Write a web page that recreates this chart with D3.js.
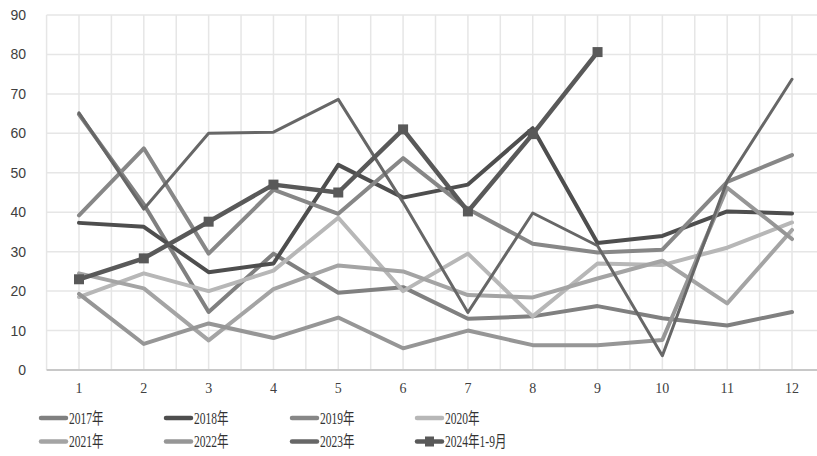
<!DOCTYPE html>
<html>
<head>
<meta charset="utf-8">
<script src="https://cdn.jsdelivr.net/npm/d3@7/dist/d3.min.js"></script>
<style>
html,body{margin:0;padding:0;background:#fff;}
svg{display:block;}
</style>
</head>
<body>
<svg id="chart" width="817" height="456"></svg>
<script>
const months = [1,2,3,4,5,6,7,8,9,10,11,12];
const yTicks = [0,10,20,30,40,50,60,70,80,90];
const seriesNames = ["2017年","2018年","2019年","2020年","2021年","2022年","2023年","2024年1-9月"];
const s2017 = [64.8,42.0,14.7,29.5,19.6,21.0,13.0,13.6,16.2,13.1,11.3,14.7];
const s2018 = [37.3,36.3,24.8,27.0,52.0,43.7,47.0,61.3,32.2,34.0,40.2,39.7];
const s2019 = [39.2,56.2,29.5,45.7,39.6,53.7,40.8,32.0,29.8,30.5,47.7,54.5];
const s2020 = [18.5,24.5,20.0,25.2,38.6,20.0,29.5,13.6,27.0,26.6,31.0,37.4];
const s2021 = [24.5,20.7,7.5,20.5,26.5,25.0,19.0,18.4,23.2,27.7,16.9,35.5];
const s2022 = [19.3,6.6,11.8,8.1,13.3,5.5,10.0,6.3,6.3,7.6,46.2,33.2];
const s2023 = [65.2,40.8,60.0,60.3,68.6,42.5,14.6,39.8,31.5,3.6,48.0,73.7];
const s2024 = [23.0,28.3,37.6,47.0,45.0,61.0,40.2,59.8,80.6];

const allSeries = [s2017,s2018,s2019,s2020,s2021,s2022,s2023,s2024];
const colors = ["#808080","#4e4e4e","#878787","#b7b7b7","#a4a4a4","#969696","#676767","#595959"];
const widths = [4,4,4,4,4,4,3,4.5];

const svg = d3.select("#chart");
const x = d3.scaleLinear().domain([1,12]).range([79,792]);
const y = d3.scaleLinear().domain([0,90]).range([370,15]);

// grid
const vgrid = d3.range(0.5, 13, 0.5);
svg.append("g").selectAll("line").data(vgrid).join("line")
  .attr("x1", d=>x(d)).attr("x2", d=>x(d))
  .attr("y1", y(90)).attr("y2", y(0))
  .attr("stroke","#e6e6e6").attr("stroke-width",1.5);
svg.append("g").selectAll("line").data(yTicks.filter(d=>d>0)).join("line")
  .attr("x1", x(0.5)).attr("x2", 830)
  .attr("y1", d=>y(d)).attr("y2", d=>y(d))
  .attr("stroke","#e6e6e6").attr("stroke-width",1.5);
// x axis line
svg.append("line").attr("x1",x(0.5)).attr("x2",830)
  .attr("y1",y(0)).attr("y2",y(0)).attr("stroke","#c8c8c8").attr("stroke-width",2);

// y labels
svg.append("g").selectAll("text").data(yTicks).join("text")
  .attr("x",26).attr("y",d=>y(d)+5)
  .attr("text-anchor","end")
  .attr("font-family","'Liberation Sans', Arial, sans-serif")
  .attr("font-size",14).attr("fill","#404040")
  .text(d=>d);
// x labels
svg.append("g").selectAll("text").data(months).join("text")
  .attr("x",d=>x(d)).attr("y",393)
  .attr("text-anchor","middle")
  .attr("font-family","'Liberation Serif', serif")
  .attr("font-size",14).attr("fill","#404040")
  .text(d=>d);

// lines
const line = d3.line().x((d,i)=>x(months[i])).y(d=>y(d));
allSeries.forEach((s,k)=>{
  svg.append("path").datum(s)
    .attr("d",line).attr("fill","none")
    .attr("stroke",colors[k]).attr("stroke-width",widths[k])
    .attr("stroke-linejoin","round").attr("stroke-linecap","round");
});
// markers for 2024
svg.append("g").selectAll("rect").data(s2024).join("rect")
  .attr("x",(d,i)=>x(months[i])-5).attr("y",d=>y(d)-5)
  .attr("width",10).attr("height",10).attr("fill",colors[7]);

// legend
const legX = [41,166,292,417];
const legY = [418,441.5];
seriesNames.forEach((name,k)=>{
  const lx = legX[k%4], ly = legY[Math.floor(k/4)];
  const g = svg.append("g").attr("transform",`translate(${lx},${ly})`);
  g.append("line").attr("x1",0).attr("x2",25).attr("y1",0).attr("y2",0)
    .attr("stroke",colors[k]).attr("stroke-width",4.5).attr("stroke-linecap","round");
  if(k===7){
    g.append("rect").attr("x",8).attr("y",-5).attr("width",9).attr("height",10).attr("fill",colors[k]);
  }
  g.append("text").attr("transform","translate(28,5.5) scale(0.72,1)")
    .attr("font-family","'Liberation Serif','Noto Sans CJK SC',serif")
    .attr("font-size",16).attr("fill","#333")
    .text(name);
});
</script>
</body>
</html>
